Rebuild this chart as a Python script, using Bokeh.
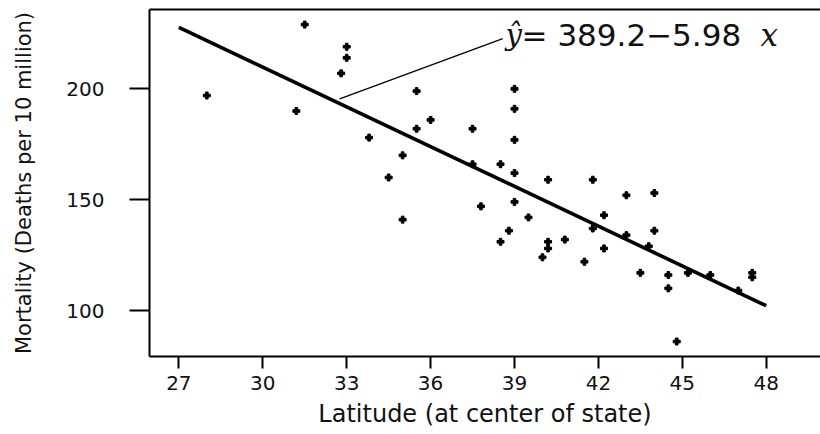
from bokeh.plotting import figure
from bokeh.models import Range1d, FixedTicker, LinearAxis, Label
from bokeh.embed import file_html
from bokeh.resources import INLINE

# Skin cancer mortality vs latitude (49 states incl. D.C.)
latitude = [33.0, 34.5, 35.0, 37.5, 39.0, 41.8, 39.0, 39.0, 28.0, 33.0,
            44.5, 40.0, 40.2, 42.2, 38.5, 37.8, 31.2, 45.2, 39.0, 42.2,
            43.5, 46.0, 32.8, 38.5, 47.0, 41.5, 39.0, 43.8, 40.2, 35.0,
            43.0, 35.5, 47.5, 40.2, 35.5, 44.0, 40.8, 41.8, 33.8, 44.8,
            36.0, 31.5, 39.5, 44.0, 37.5, 47.5, 38.8, 44.5, 43.0]
mortality = [219, 160, 170, 182, 149, 159, 200, 177, 197, 214,
             116, 124, 128, 128, 166, 147, 190, 117, 162, 143,
             117, 116, 207, 131, 109, 122, 191, 129, 159, 141,
             152, 199, 115, 131, 182, 136, 132, 137, 178, 86,
             186, 229, 142, 153, 166, 117, 136, 110, 134]

intercept = 389.2
slope = -5.98
fit_lat = [27, 48]
fit_mort = [intercept + slope * v for v in fit_lat]

x_ticks = [27, 30, 33, 36, 39, 42, 45, 48]
y_ticks = [100, 150, 200]

FONT = "DejaVu Sans"

p = figure(width=820, height=434, output_backend="svg", toolbar_location=None,
           x_range=Range1d(25.95, 49.94), y_range=Range1d(79.25, 235.8),
           min_border_left=149, min_border_right=0, min_border_top=9,
           min_border_bottom=78, outline_line_color=None,
           background_fill_color="white", border_fill_color="white")
p.grid.visible = False

for ax in (p.xaxis[0], p.yaxis[0]):
    ax.axis_line_width = 2
    ax.axis_line_color = "black"
    ax.major_tick_line_width = 2
    ax.major_tick_line_color = "black"
    ax.major_tick_in = 0
    ax.minor_tick_out = 0
    ax.minor_tick_in = 0
    ax.major_label_text_font = FONT
    ax.major_label_text_font_size = "20px"
    ax.major_label_text_color = "#111111"
    ax.axis_label_text_font = FONT
    ax.axis_label_text_font_style = "normal"
    ax.axis_label_text_color = "#111111"

p.xaxis.ticker = FixedTicker(ticks=x_ticks)
p.xaxis.major_tick_out = 12
p.xaxis.major_label_standoff = 7
p.xaxis.axis_label = "Latitude (at center of state)"
p.xaxis.axis_label_text_font_size = "24px"
p.xaxis.axis_label_standoff = 7

p.yaxis.ticker = FixedTicker(ticks=y_ticks)
p.yaxis.major_tick_out = 20
p.yaxis.major_label_standoff = 25
p.yaxis.axis_label = "Mortality (Deaths per 10 million)"
p.yaxis.axis_label_text_font_size = "21px"
p.yaxis.axis_label_standoff = 27

top = LinearAxis(ticker=FixedTicker(ticks=[]), major_tick_out=0, major_tick_in=0,
                 minor_tick_out=0, minor_tick_in=0, major_label_standoff=0,
                 axis_line_width=2, axis_line_color="black")
p.add_layout(top, "above")

# regression line
p.line(fit_lat, fit_mort, line_width=3.6, line_color="black")

# data points
p.scatter(latitude, mortality, marker="plus", size=7, color="black")

# pointer to equation
p.segment(x0=[32.75], y0=[195.5], x1=[38.58], y1=[222.7],
          line_width=1.3, line_color="black")

eq_x, eq_y = 38.68, 224.1
p.add_layout(Label(x=eq_x, y=eq_y, text="ŷ", text_font="DejaVu Serif",
                   text_font_style="italic", text_font_size="29px",
                   text_baseline="alphabetic", text_align="left", text_color="#111111"))
p.add_layout(Label(x=eq_x, y=eq_y, x_offset=16, text="= 389.2−5.98",
                   text_font=FONT, text_font_size="31px",
                   text_baseline="alphabetic", text_align="left", text_color="#111111"))
p.add_layout(Label(x=eq_x, y=eq_y, x_offset=255, text="x", text_font="DejaVu Serif",
                   text_font_style="italic", text_font_size="31px",
                   text_baseline="alphabetic", text_align="left", text_color="#111111"))

open("out.html", "w").write(file_html(p, INLINE))
